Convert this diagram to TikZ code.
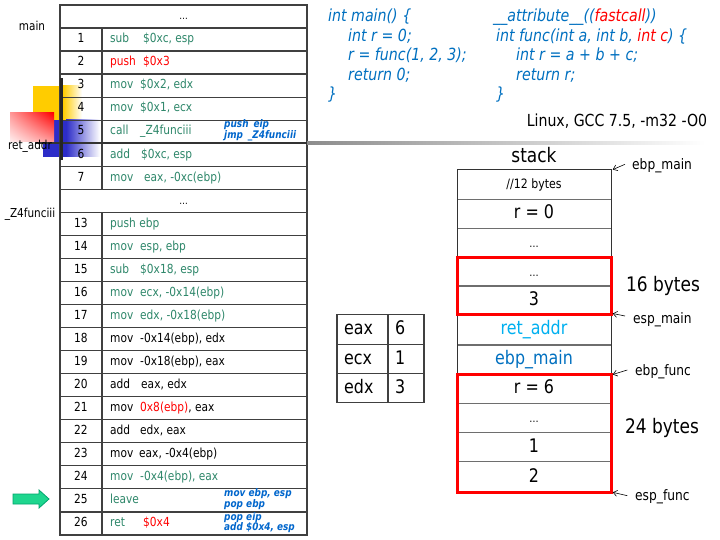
\documentclass[tikz,border=0pt]{standalone}
\usepackage{fontspec}
\setmainfont{DejaVu Sans}[FakeStretch=0.85]
\usetikzlibrary{arrows.meta,shadings}
\definecolor{instr}{RGB}{46,135,106}
\definecolor{codeblue}{RGB}{0,112,192}
\definecolor{lightblue}{RGB}{0,176,240}
\definecolor{tline}{RGB}{64,64,64}
\definecolor{sline}{RGB}{110,110,110}
\definecolor{annblue}{RGB}{0,102,204}
\definecolor{agreen}{RGB}{30,214,142}
\definecolor{agreendark}{RGB}{0,165,110}
\definecolor{sqyellow}{RGB}{255,204,0}
\definecolor{sqblue}{RGB}{45,45,200}
\begin{document}
\begin{tikzpicture}[x=1pt,y=-1pt,
  tl/.style={draw=tline, line width=1.3pt},
  sl/.style={draw=sline, line width=1.1pt},
  cellnum/.style={inner sep=0pt, font=\fontsize{12.5}{15}\selectfont, text height=9pt, text depth=2.5pt},
  ins/.style={cellnum, anchor=west, text=instr},
  insk/.style={cellnum, anchor=west, text=black},
  ann/.style={inner sep=0pt, anchor=west, font=\fontsize{10.5}{12}\selectfont\bfseries\itshape, text=annblue},
  code/.style={inner sep=0pt, anchor=west, font=\fontsize{16.7}{20}\selectfont\itshape, text=codeblue, text height=12pt, text depth=3.5pt},
  stk/.style={inner sep=0pt, font=\fontsize{18.7}{22}\selectfont, text height=13.5pt, text depth=3.5pt},
  lab/.style={inner sep=0pt, font=\fontsize{14.4}{17}\selectfont},
  side/.style={inner sep=0pt, font=\fontsize{12.3}{15}\selectfont},
  big/.style={inner sep=0pt, font=\fontsize{20}{24}\selectfont},
  ptr/.style={-{Straight Barb[length=4pt,width=6pt]}, line width=0.6pt},
  redbox/.style={draw=red, line width=3pt},
]
\useasboundingbox (0,0) rectangle (720,540);
\fill[white] (0,0) rectangle (720,540);

% ---------- decorative squares ----------
\fill[sqyellow] (33,86) rectangle (63,120);
\shade[left color=sqyellow, right color=white] (63,86) rectangle (82,120);
\fill[sqblue] (43,120) rectangle (66,157);
\shade[left color=sqblue, right color=white] (66,120) rectangle (100,157);
\shade[upper right=red, upper left=red!40, lower right=red!40, lower left=red!6] (10,113) rectangle (54,142);

% ---------- left code table ----------
\draw[tl] (60,5) rectangle (307,535);
\foreach \k in {1,...,22} \draw[tl] (60,{5+23.04*\k}) -- (307,{5+23.04*\k});
\draw[tl] (102,{5+23.04}) -- (102,{5+23.04*8});
\draw[tl] (102,{5+23.04*9}) -- (102,535);

\node[cellnum] (d0) at (183.5,16.5) {\fontsize{10}{12}\selectfont …};
\node[cellnum] (d8) at (183.5,200.8) {\fontsize{10}{12}\selectfont …};

\node[cellnum] (n1) at (81,39.56) {1};
\node[cellnum] (n2) at (81,62.60) {2};
\node[cellnum] (n3) at (81,85.64) {3};
\node[cellnum] (n4) at (81,108.68) {4};
\node[cellnum] (n5) at (81,131.72) {5};
\node[cellnum] (n6) at (81,154.76) {6};
\node[cellnum] (n7) at (81,177.80) {7};
\node[cellnum] (n13) at (81,223.88) {13};
\node[cellnum] (n14) at (81,246.92) {14};
\node[cellnum] (n15) at (81,269.96) {15};
\node[cellnum] (n16) at (81,293.00) {16};
\node[cellnum] (n17) at (81,316.04) {17};
\node[cellnum] (n18) at (81,339.08) {18};
\node[cellnum] (n19) at (81,362.12) {19};
\node[cellnum] (n20) at (81,385.16) {20};
\node[cellnum] (n21) at (81,408.20) {21};
\node[cellnum] (n22) at (81,431.24) {22};
\node[cellnum] (n23) at (81,454.28) {23};
\node[cellnum] (n24) at (81,477.32) {24};
\node[cellnum] (n25) at (81,500.36) {25};
\node[cellnum] (n26) at (81,523.40) {26};

\node[ins] (i1) at (110,39.56) {\makebox[33pt][l]{sub}\$0xc, esp};
\node[ins, text=red] (i2) at (110,62.60) {\makebox[33pt][l]{push}\$0x3};
\node[ins] (i3) at (110,85.64) {\makebox[30pt][l]{mov}\$0x2, edx};
\node[ins] (i4) at (110,108.68) {\makebox[30pt][l]{mov}\$0x1, ecx};
\node[ins] (i5) at (110,131.72) {\makebox[30pt][l]{call}\_Z4funciii};
\node[ins] (i6) at (110,154.76) {\makebox[31pt][l]{add}\$0xc, esp};
\node[ins] (i7) at (110,177.80) {\makebox[34pt][l]{mov}eax, -0xc(ebp)};
\node[ins] (i13) at (110,223.88) {push ebp};
\node[ins] (i14) at (110,246.92) {\makebox[30pt][l]{mov}esp, ebp};
\node[ins] (i15) at (110,269.96) {\makebox[30pt][l]{sub}\$0x18, esp};
\node[ins] (i16) at (110,293.00) {\makebox[30pt][l]{mov}ecx, -0x14(ebp)};
\node[ins] (i17) at (110,316.04) {\makebox[30pt][l]{mov}edx, -0x18(ebp)};
\node[insk] (i18) at (110,339.08) {\makebox[30pt][l]{mov}-0x14(ebp), edx};
\node[insk] (i19) at (110,362.12) {\makebox[30pt][l]{mov}-0x18(ebp), eax};
\node[insk] (i20) at (110,385.16) {\makebox[31pt][l]{add}eax, edx};
\node[insk] (i21) at (110,408.20) {\makebox[30pt][l]{mov}\textcolor{red}{0x8(ebp)}, eax};
\node[insk] (i22) at (110,431.24) {\makebox[30pt][l]{add}edx, eax};
\node[insk] (i23) at (110,454.28) {\makebox[29pt][l]{mov}eax, -0x4(ebp)};
\node[ins] (i24) at (110,477.32) {\makebox[30pt][l]{mov}-0x4(ebp), eax};
\node[ins] (i25) at (110,500.36) {leave};
\node[ins] (i26) at (110,523.40) {\makebox[33pt][l]{ret}\textcolor{red}{\$0x4}};

\node[ann] (a5a) at (224,125) {push\hspace{5pt}eip};
\node[ann] (a5b) at (224,136) {jmp\hspace{5pt}\_Z4funciii};
\node[ann] (a25a) at (224,494) {mov ebp, esp};
\node[ann] (a25b) at (224,505) {pop ebp};
\node[ann] (a26a) at (224,518) {pop eip};
\node[ann] (a26b) at (224,528) {add \$0x4, esp};

% ---------- decorations over the table ----------
\fill[black!80] (35,142) rectangle (307,144.3);
\shade[left color=black!45, right color=white] (307,142) rectangle (705,144.3);
\fill[black!85] (59.5,78) rectangle (62.5,160);

\node[side] (lmain) at (32,26) {main};
\node[side] (lfunc) at (30,214) {\_Z4funciii};
\node[side] (lret) at (30,146) {ret\_addr};

% green arrow
\filldraw[fill=agreen, draw=agreendark, line width=0.8pt]
  (13,494) -- (39,494) -- (39,490) -- (49,499) -- (39,508) -- (39,504) -- (13,504) -- cycle;

% ---------- C code ----------
\node[code] (c1) at (328,17) {int main() \{};
\node[code] (c2) at (348,37) {int r = 0;};
\node[code] (c3) at (348,56) {r = func(1, 2, 3);};
\node[code] (c4) at (348,76) {return 0;};
\node[code] (c5) at (328,95) {\}};
\node[code] (f1) at (493,17) {\_\_attribute\_\_((\textcolor{red}{fastcall}))};
\node[code] (f2) at (496,37) {int func(int a, int b, \textcolor{red}{int c}) \{};
\node[code] (f3) at (516,56) {int r = a + b + c;};
\node[code] (f4) at (516,76) {return r;};
\node[code] (f5) at (496,95) {\}};

\node[inner sep=0pt, font=\fontsize{16.6}{20}\selectfont] (env) at (617,121) {Linux, GCC 7.5, -m32 -O0};

% ---------- stack ----------
\node[big] (stacktitle) at (534,155) {stack};
\foreach \yy in {199.3,228.3,257.3,286,314.5,345,374.3,403.3,432.3,461.7}
  \draw[sl] (457,\yy) -- (611,\yy);
\draw[draw=black!80, line width=1pt] (457,170) rectangle (611,492.7);

\node[stk, font=\fontsize{12.9}{15}\selectfont, text height=9.5pt, text depth=2.5pt] (s0) at (534,184.65) {//12 bytes};
\node[stk] (s1) at (534,213.8) {r = 0};
\node[stk] (s2) at (534,242.8) {\fontsize{11}{13}\selectfont …};
\node[stk] (s3) at (534,271.65) {\fontsize{11}{13}\selectfont …};
\node[stk] (s4) at (534,300.25) {3};
\node[stk, text=lightblue] (s5) at (534,329.75) {ret\_addr};
\node[stk, text=codeblue] (s6) at (534,359.65) {ebp\_main};
\node[stk] (s7) at (534,388.8) {r = 6};
\node[stk] (s8) at (534,417.8) {\fontsize{11}{13}\selectfont …};
\node[stk] (s9) at (534,447) {1};
\node[stk] (s10) at (534,477.2) {2};

\draw[redbox] (457,257.3) rectangle (611,314.5);
\draw[redbox] (457,374.3) rectangle (611,492.7);

\node[big] (b16) at (663,286) {16 bytes};
\node[big] (b24) at (662,428) {24 bytes};

\node[lab, anchor=west] (Lebpm) at (632,166) {ebp\_main};
\node[lab, anchor=west] (Lespm) at (633,320) {esp\_main};
\node[lab, anchor=west] (Lebpf) at (635,372) {ebp\_func};
\node[lab, anchor=west] (Lespf) at (635,497) {esp\_func};
\coordinate (t1) at (625,164.3);  \coordinate (p1) at (612.7,169.6);
\coordinate (t2) at (625,316);    \coordinate (p2) at (612.7,313.5);
\coordinate (t3) at (627.3,370);  \coordinate (p3) at (612.7,374.5);
\coordinate (t4) at (627.3,495.7);\coordinate (p4) at (612.7,492.3);
\draw[ptr] (t1) -- (p1);
\draw[ptr] (t2) -- (p2);
\draw[ptr] (t3) -- (p3);
\draw[ptr] (t4) -- (p4);

% ---------- registers ----------
\draw[tl, line width=1.1pt] (337,314.5) rectangle (424,402.5);
\draw[tl, line width=1.1pt] (337,344.5) -- (424,344.5);
\draw[tl, line width=1.1pt] (337,373.5) -- (424,373.5);
\draw[tl, line width=1.1pt] (388,314.5) -- (388,402.5);
\node[stk, anchor=west] (reax) at (344,329.5) {eax};
\node[stk, anchor=west] (recx) at (344,359) {ecx};
\node[stk, anchor=west] (redx) at (344,388) {edx};
\node[stk, anchor=west] (veax) at (395,329.5) {6};
\node[stk, anchor=west] (vecx) at (395,359) {1};
\node[stk, anchor=west] (vedx) at (395,388) {3};
\end{tikzpicture}
\end{document}
